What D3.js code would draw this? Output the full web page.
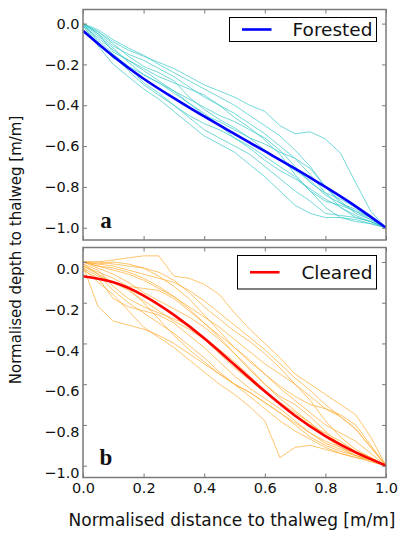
<!DOCTYPE html>
<html>
<head>
<meta charset="utf-8">
<script src="https://cdn.jsdelivr.net/npm/d3@7"></script>
<style>
  body { margin: 0; background: #fff; }
  svg { display: block; font-family: 'DejaVu Sans', sans-serif; }
</style>
</head>
<body>
<svg id="chart" width="398" height="538"></svg>
<script>
// shared sample positions along the normalised distance axis
const xs = [0, 0.05, 0.1, 0.15, 0.2, 0.25, 0.3, 0.35, 0.4, 0.45, 0.5,
  0.55, 0.6, 0.65, 0.7, 0.75, 0.8, 0.85, 0.9, 0.95, 1.0];

const forestedProfiles = [
  [0, -0.04, -0.09, -0.13, -0.16, -0.19, -0.22, -0.26, -0.30, -0.33, -0.36, -0.40, -0.43, -0.50, -0.54, -0.53, -0.565, -0.635, -0.78, -0.92, -1.0],
  [0, -0.03, -0.08, -0.12, -0.155, -0.20, -0.24, -0.28, -0.32, -0.36, -0.40, -0.45, -0.50, -0.55, -0.62, -0.70, -0.80, -0.88, -0.92, -0.95, -1.0],
  [0, -0.05, -0.11, -0.15, -0.18, -0.22, -0.26, -0.31, -0.36, -0.40, -0.44, -0.49, -0.54, -0.60, -0.66, -0.74, -0.83, -0.90, -0.94, -0.97, -1.0],
  [-0.01, -0.07, -0.13, -0.18, -0.23, -0.28, -0.33, -0.39, -0.45, -0.48, -0.52, -0.56, -0.59, -0.63, -0.66, -0.71, -0.80, -0.87, -0.93, -0.96, -1.0],
  [0, -0.09, -0.17, -0.21, -0.25, -0.29, -0.34, -0.39, -0.44, -0.50, -0.56, -0.61, -0.67, -0.72, -0.76, -0.81, -0.86, -0.90, -0.95, -0.97, -1.0],
  [0, -0.06, -0.12, -0.19, -0.25, -0.29, -0.33, -0.37, -0.41, -0.45, -0.48, -0.52, -0.56, -0.62, -0.70, -0.78, -0.83, -0.86, -0.90, -0.94, -1.0],
  [-0.01, -0.11, -0.20, -0.26, -0.32, -0.37, -0.43, -0.49, -0.55, -0.59, -0.63, -0.69, -0.75, -0.82, -0.89, -0.93, -0.95, -0.95, -0.96, -0.98, -1.0],
  [0, -0.08, -0.15, -0.21, -0.29, -0.34, -0.40, -0.46, -0.52, -0.56, -0.60, -0.64, -0.70, -0.76, -0.82, -0.87, -0.93, -0.94, -0.95, -0.97, -1.0],
  [0, -0.04, -0.10, -0.16, -0.21, -0.24, -0.28, -0.36, -0.42, -0.47, -0.51, -0.56, -0.62, -0.67, -0.72, -0.77, -0.84, -0.88, -0.91, -0.95, -1.0],
  [-0.01, -0.10, -0.16, -0.23, -0.30, -0.35, -0.40, -0.45, -0.49, -0.52, -0.56, -0.60, -0.65, -0.70, -0.75, -0.82, -0.90, -0.95, -0.97, -0.98, -1.0],
  [0, -0.05, -0.14, -0.18, -0.22, -0.26, -0.29, -0.32, -0.35, -0.40, -0.46, -0.51, -0.57, -0.64, -0.74, -0.82, -0.87, -0.89, -0.92, -0.96, -1.0],
];

const clearedProfiles = [
  [0.0, 0.0, 0.01, 0.02, 0.03, 0.03, -0.07, -0.08, -0.11, -0.16, -0.25, -0.33, -0.40, -0.47, -0.55, -0.60, -0.65, -0.70, -0.75, -0.86, -1.0],
  [-0.03, -0.10, -0.16, -0.24, -0.32, -0.37, -0.42, -0.48, -0.54, -0.60, -0.65, -0.71, -0.78, -0.96, -0.91, -0.90, -0.92, -0.94, -0.96, -0.97, -1.0],
  [-0.02, -0.22, -0.29, -0.31, -0.33, -0.36, -0.40, -0.45, -0.50, -0.55, -0.60, -0.64, -0.69, -0.74, -0.79, -0.84, -0.89, -0.92, -0.95, -0.98, -1.0],
  [0.0, -0.02, -0.03, -0.05, -0.08, -0.12, -0.17, -0.23, -0.30, -0.36, -0.42, -0.48, -0.55, -0.62, -0.68, -0.74, -0.80, -0.84, -0.88, -0.94, -1.0],
  [-0.01, -0.06, -0.14, -0.20, -0.25, -0.30, -0.35, -0.41, -0.47, -0.54, -0.60, -0.66, -0.72, -0.78, -0.83, -0.87, -0.91, -0.94, -0.96, -0.98, -1.0],
  [0.0, -0.01, -0.02, -0.04, -0.06, -0.08, -0.10, -0.14, -0.19, -0.25, -0.31, -0.37, -0.43, -0.50, -0.57, -0.63, -0.70, -0.76, -0.82, -0.91, -1.0],
  [-0.04, -0.08, -0.18, -0.22, -0.24, -0.26, -0.30, -0.36, -0.42, -0.49, -0.56, -0.62, -0.67, -0.72, -0.78, -0.84, -0.88, -0.91, -0.94, -0.97, -1.0],
  [0.0, -0.03, -0.06, -0.10, -0.15, -0.19, -0.23, -0.27, -0.32, -0.38, -0.45, -0.52, -0.60, -0.67, -0.73, -0.79, -0.85, -0.89, -0.93, -0.96, -1.0],
  [-0.02, -0.05, -0.08, -0.12, -0.13, -0.14, -0.18, -0.24, -0.30, -0.37, -0.45, -0.53, -0.60, -0.66, -0.70, -0.76, -0.83, -0.90, -0.93, -0.97, -1.0],
  [0.0, -0.01, 0.0, -0.01, -0.03, -0.07, -0.12, -0.18, -0.26, -0.34, -0.42, -0.49, -0.55, -0.61, -0.66, -0.70, -0.72, -0.76, -0.82, -0.91, -1.0],
  [-0.02, -0.06, -0.10, -0.13, -0.20, -0.28, -0.36, -0.43, -0.49, -0.55, -0.60, -0.64, -0.69, -0.74, -0.80, -0.86, -0.90, -0.93, -0.95, -0.97, -1.0],
  [0.0, -0.02, -0.04, -0.06, -0.09, -0.13, -0.17, -0.22, -0.27, -0.32, -0.38, -0.44, -0.50, -0.55, -0.60, -0.66, -0.72, -0.75, -0.80, -0.90, -1.0],
  [-0.01, -0.04, -0.12, -0.18, -0.22, -0.25, -0.28, -0.31, -0.37, -0.43, -0.49, -0.56, -0.63, -0.69, -0.74, -0.79, -0.86, -0.91, -0.95, -0.97, -1.0],
  [0.0, 0.0, -0.01, -0.02, -0.03, -0.05, -0.09, -0.15, -0.22, -0.28, -0.34, -0.39, -0.45, -0.52, -0.60, -0.68, -0.78, -0.86, -0.92, -0.96, -1.0],
  [-0.03, -0.07, -0.10, -0.14, -0.19, -0.24, -0.29, -0.33, -0.38, -0.45, -0.52, -0.58, -0.64, -0.70, -0.75, -0.80, -0.84, -0.88, -0.93, -0.96, -1.0],
];

// mean profiles, sampled every 0.1
const meanXs = [0, 0.1, 0.2, 0.3, 0.4, 0.5, 0.6, 0.7, 0.8, 0.9, 1.0];
const forestedMean = [-0.035, -0.16, -0.27, -0.365, -0.455, -0.54, -0.625, -0.71, -0.80, -0.895, -1.0];
const clearedMean = [-0.07, -0.10, -0.165, -0.26, -0.375, -0.505, -0.635, -0.755, -0.855, -0.935, -1.0];

const xTicks = [0, 0.2, 0.4, 0.6, 0.8, 1.0];
const yTicks = [-1.0, -0.8, -0.6, -0.4, -0.2, 0.0];

const spineColor = '#7a7a7a';
const left = 83, right = 386;

const svg = d3.select('#chart');

const x = d3.scaleLinear().domain([0, 1]).range([left, right]);
const line = d3.line().x((d) => x(d[0])).y((d) => d[1]);

const panels = [
  {
    top: 9.5, bottom: 240, domain: [-1.06, 0.069], labelShift: 0,
    profiles: forestedProfiles, mean: forestedMean,
    thin: '#3cc9c9', thick: '#0000ff', name: 'Forested', letter: 'a',
    legend: { x0: 229.5, x1: 376.5, y0: 17.5, y1: 41.5 },
    showX: false,
  },
  {
    top: 247.5, bottom: 477.5, domain: [-1.058, 0.071], labelShift: 7,
    profiles: clearedProfiles, mean: clearedMean,
    thin: '#ffad33', thick: '#ff0000', name: 'Cleared', letter: 'b',
    legend: { x0: 237.5, x1: 376.5, y0: 255.5, y1: 289 },
    showX: true,
  },
];

panels.forEach((p) => {
  const y = d3.scaleLinear().domain(p.domain).range([p.bottom, p.top]);
  const g = svg.append('g');

  const clipId = 'clip-' + p.letter;
  g.append('clipPath').attr('id', clipId)
    .append('rect')
    .attr('x', left).attr('y', p.top)
    .attr('width', right - left).attr('height', p.bottom - p.top);

  const plot = g.append('g').attr('clip-path', `url(#${clipId})`);

  // individual profiles
  plot.selectAll('.profile')
    .data(p.profiles)
    .enter()
    .append('path')
    .attr('class', 'profile')
    .attr('fill', 'none')
    .attr('stroke', p.thin)
    .attr('stroke-opacity', 0.8)
    .attr('stroke-width', 0.9)
    .attr('d', (vals) => line(vals.map((v, i) => [xs[i], y(v)])));

  // mean profile
  plot.append('path')
    .attr('fill', 'none')
    .attr('stroke', p.thick)
    .attr('stroke-width', 2.6)
    .attr('d', d3.line().curve(d3.curveNatural)
      .x((d) => x(d[0])).y((d) => y(d[1]))(p.mean.map((v, i) => [meanXs[i], v])));

  // axes with inward ticks on all four sides
  const yLeft = d3.axisLeft(y).tickValues(yTicks).tickSize(-4).tickPadding(3.5)
    .tickFormat(d3.format('.1f'));
  const yRight = d3.axisRight(y).tickValues(yTicks).tickSize(-4).tickFormat('');
  const xBottom = d3.axisBottom(x).tickValues(xTicks).tickSize(-4).tickPadding(5)
    .tickFormat(p.showX ? d3.format('.1f') : '');
  const xTop = d3.axisTop(x).tickValues(xTicks).tickSize(-4).tickFormat('');

  const yAxisG = g.append('g').attr('transform', `translate(${left},0)`).call(yLeft);
  yAxisG.selectAll('text').attr('transform', `translate(0,${p.labelShift})`);

  const axes = [
    yAxisG,
    g.append('g').attr('transform', `translate(${right},0)`).call(yRight),
    g.append('g').attr('transform', `translate(0,${p.bottom})`).call(xBottom),
    g.append('g').attr('transform', `translate(0,${p.top})`).call(xTop),
  ];
  axes.forEach((a) => {
    a.select('.domain').remove();
    a.selectAll('line').attr('stroke', spineColor);
    a.selectAll('text').attr('fill', '#111').style('font-size', '14.5px')
      .style('font-family', "'DejaVu Sans', sans-serif");
  });

  // frame
  g.append('rect')
    .attr('x', left).attr('y', p.top)
    .attr('width', right - left).attr('height', p.bottom - p.top)
    .attr('fill', 'none')
    .attr('stroke', spineColor)
    .attr('stroke-width', 1.5);

  // panel letter
  g.append('text')
    .attr('x', 106).attr('y', p.bottom - 12.5)
    .attr('text-anchor', 'middle')
    .style('font-family', "'Liberation Serif', 'DejaVu Serif', serif")
    .style('font-weight', 'bold')
    .style('font-size', '23px')
    .attr('fill', '#111')
    .text(p.letter);

  // legend
  const L = p.legend;
  g.append('rect')
    .attr('x', L.x0).attr('y', L.y0)
    .attr('width', L.x1 - L.x0).attr('height', L.y1 - L.y0)
    .attr('fill', '#fff')
    .attr('stroke', '#000')
    .attr('stroke-width', 1);
  const ly = (L.y0 + L.y1) / 2;
  g.append('line')
    .attr('x1', L.x0 + 12.5).attr('x2', L.x0 + 42)
    .attr('y1', ly).attr('y2', ly)
    .attr('stroke', p.thick).attr('stroke-width', 2.6);
  g.append('text')
    .attr('x', L.x1 - 4).attr('y', ly)
    .attr('dy', '0.36em')
    .attr('text-anchor', 'end')
    .style('font-size', '18.5px')
    .attr('fill', '#111')
    .text(p.name);
});

// axis titles
svg.append('text')
  .attr('transform', 'translate(21,250) rotate(-90)')
  .attr('text-anchor', 'middle')
  .style('font-size', '15px')
  .attr('fill', '#111')
  .text('Normalised depth to thalweg [m/m]');

svg.append('text')
  .attr('x', 232).attr('y', 526)
  .attr('text-anchor', 'middle')
  .style('font-size', '17px')
  .attr('fill', '#111')
  .text('Normalised distance to thalweg [m/m]');
</script>
</body>
</html>
